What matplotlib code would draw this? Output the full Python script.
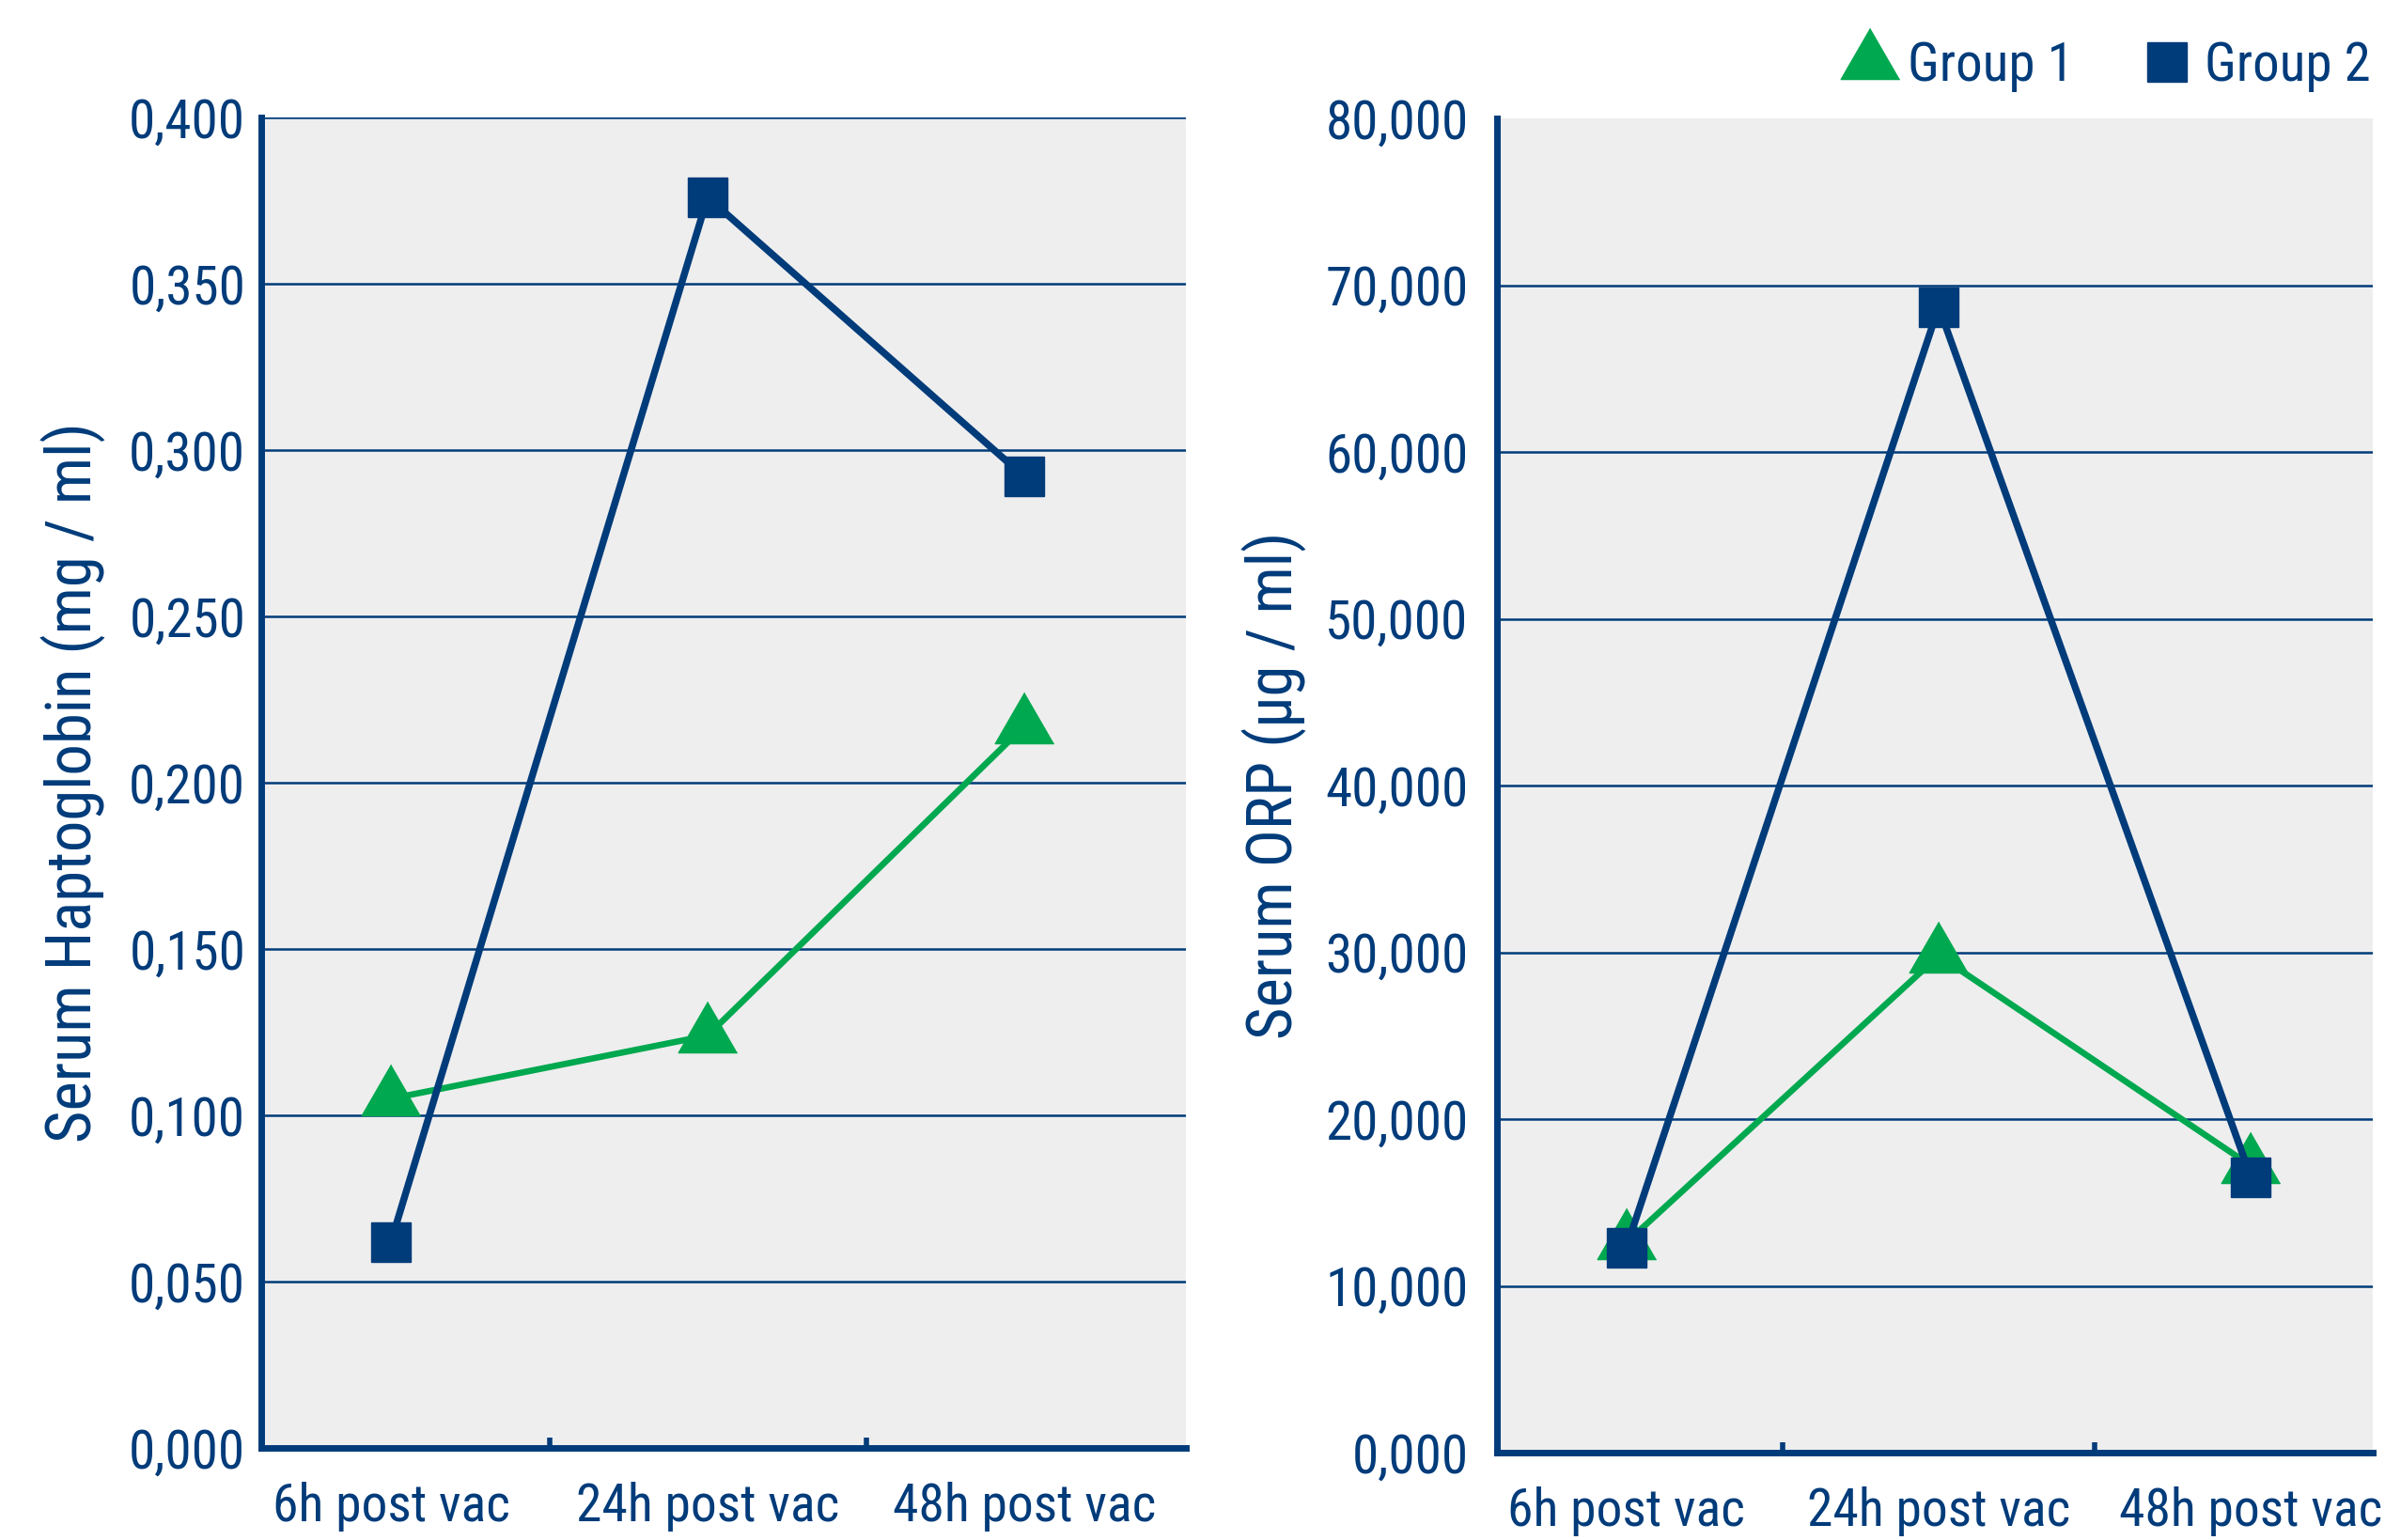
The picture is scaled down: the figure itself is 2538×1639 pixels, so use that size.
import matplotlib
matplotlib.use("Agg")
import matplotlib.pyplot as plt
from matplotlib.ticker import FuncFormatter, FixedLocator

# dados
categorias = ['6h post vac', '24h post vac', '48h post vac']
grupos = ['Group 1', 'Group 2']

hapto_g1 = [0.105, 0.124, 0.217]
hapto_g2 = [0.062, 0.376, 0.292]
hapto_ticks = [0.0, 0.05, 0.10, 0.15, 0.20, 0.25, 0.30, 0.35, 0.40]

orp_g1 = [12.6, 29.8, 17.2]
orp_g2 = [12.3, 68.7, 16.5]
orp_ticks = [0, 10, 20, 30, 40, 50, 60, 70, 80]

azul = '#003B7A'
verde = '#00A84F'
fundo = '#EEEEEE'

plt.rcParams['font.family'] = ['Roboto Condensed', 'Liberation Sans Narrow', 'DejaVu Sans']
plt.rcParams['text.color'] = azul

fig = plt.figure(figsize=(25.38, 16.39), dpi=100)
ax1 = fig.add_axes([0.1095, 0.0598, 0.3877, 0.8639])
ax2 = fig.add_axes([0.6277, 0.0567, 0.3672, 0.8664])

tri = [(0, 1), (-0.866, -0.5), (0.866, -0.5)]
fmt = FuncFormatter(lambda v, p: ('%.3f' % v).replace('.', ','))


def painel(ax, g1, g2, ticks, ylabel, ypad, top_grid, xlim, labx):
    x = list(range(len(categorias)))
    ax.set_facecolor(fundo)
    ax.plot(x, g2, color=azul, lw=5.4, marker='s', ms=30, mec=azul, mfc=azul,
            label=grupos[1], zorder=4)
    ax.plot(x, g1, color=verde, lw=4.8, marker=tri, ms=52, mec=verde, mfc=verde,
            label=grupos[0], zorder=3)
    ax.set_xlim(*xlim)
    ax.set_ylim(ticks[0], ticks[-1])
    ax.yaxis.set_major_locator(FixedLocator(ticks))
    ax.yaxis.set_major_formatter(fmt)
    ax.yaxis.grid(True, color=azul, lw=1.8, zorder=1)
    gl = ax.get_ygridlines()
    gl[0].set_visible(False)
    if not top_grid:
        gl[-1].set_visible(False)
    ax.set_axisbelow(True)

    ax.set_xticks(x)
    ax.set_xticklabels(categorias)
    ax.set_xticks([0.5, 1.5], minor=True)
    ax.tick_params(axis='x', which='major', length=0, pad=26, labelsize=40, labelcolor=azul)
    ax.tick_params(axis='x', which='minor', direction='in', length=8, width=4, color=azul)
    ax.tick_params(axis='y', length=0, pad=ypad, labelsize=41, labelcolor=azul)

    for s in ['top', 'right']:
        ax.spines[s].set_visible(False)
    for s in ['left', 'bottom']:
        ax.spines[s].set_color(azul)
        ax.spines[s].set_linewidth(5)
    ax.set_ylabel(ylabel, fontsize=48, color=azul)
    ax.yaxis.set_label_coords(labx, 0.5)


painel(ax1, hapto_g1, hapto_g2, hapto_ticks, 'Serum Haptoglobin (mg / ml)', 12, True,
       (-0.41, 2.51), -0.168)
painel(ax2, orp_g1, orp_g2, orp_ticks, 'Serum ORP (µg / ml)', 22, False,
       (-0.414, 2.39), -0.217)

h, l = ax1.get_legend_handles_labels()
leg = fig.legend(h[::-1], l[::-1], loc='center right', bbox_to_anchor=(1.003, 0.957),
                 ncol=2, frameon=False, fontsize=41, markerscale=1.0,
                 handlelength=0.9, handletextpad=0.25, columnspacing=1.3, borderaxespad=0)
for t in leg.get_texts():
    t.set_color(azul)
for ln in leg.get_lines():
    ln.set_linestyle('none')

fig.savefig('out.png', dpi=100)
